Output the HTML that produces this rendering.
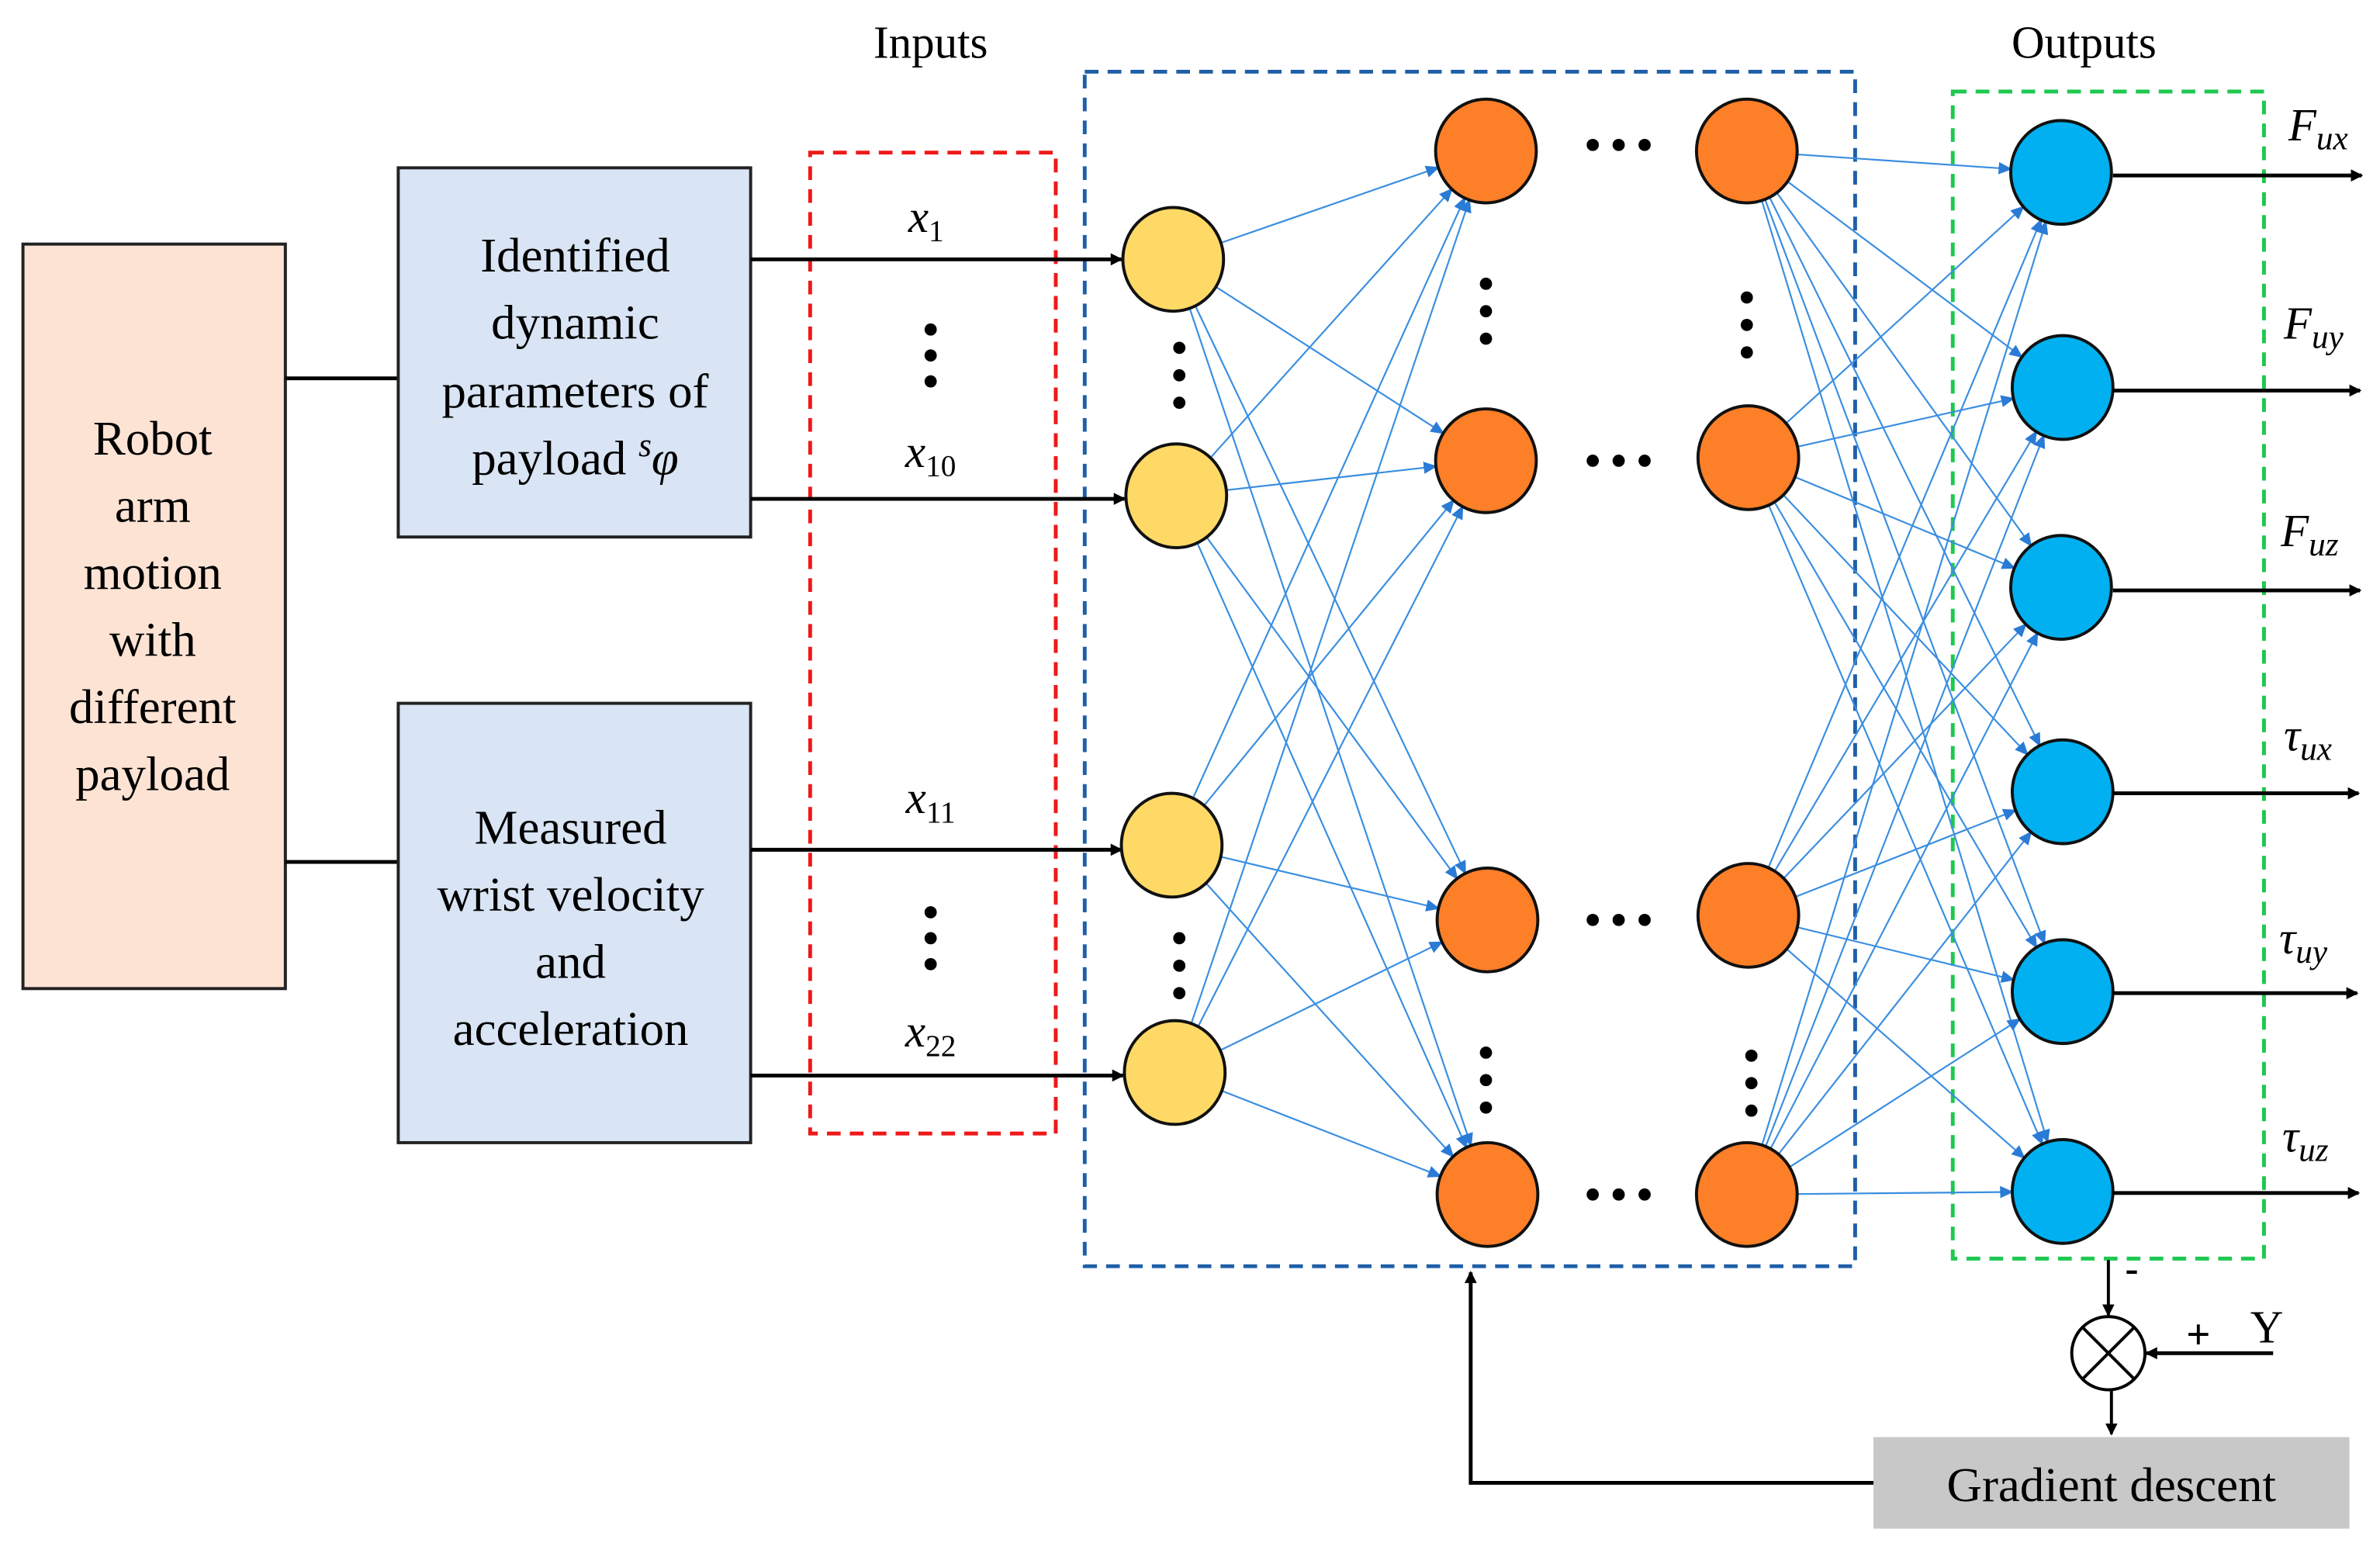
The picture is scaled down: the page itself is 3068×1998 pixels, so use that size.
<!DOCTYPE html>
<html><head><meta charset="utf-8"><style>
html,body{margin:0;padding:0;background:#fff}
svg{display:block}
text{font-family:"Liberation Serif",serif;fill:#000}
.m{font-style:italic}
</style></head><body>
<svg id="s" width="3068" height="1998" viewBox="0 0 1560 1016" xmlns="http://www.w3.org/2000/svg">
<defs>
<marker id="ab" markerWidth="8" markerHeight="8" refX="7" refY="4" orient="auto" markerUnits="userSpaceOnUse"><path d="M0,0 L8,4 L0,8 z" fill="#000"/></marker>
<marker id="al" markerWidth="9" markerHeight="8" refX="8" refY="4" orient="auto" markerUnits="userSpaceOnUse"><path d="M0,0 L9,4 L0,8 z" fill="#2a7bd6"/></marker>
</defs>
<!-- Robot box -->
<rect x="15" y="160" width="172" height="488" fill="#fde3d4" stroke="#222" stroke-width="2"/>
<g font-size="32" text-anchor="middle">
<text x="100" y="298">Robot</text><text x="100" y="342">arm</text><text x="100" y="386">motion</text>
<text x="100" y="430">with</text><text x="100" y="474">different</text><text x="100" y="518">payload</text>
</g>
<line x1="187" y1="248" x2="261" y2="248" stroke="#000" stroke-width="2.5"/>
<line x1="187" y1="565" x2="261" y2="565" stroke="#000" stroke-width="2.5"/>
<rect x="261" y="110" width="231" height="242" fill="#d9e4f4" stroke="#222" stroke-width="2"/>
<rect x="261" y="461" width="231" height="288" fill="#d9e4f4" stroke="#222" stroke-width="2"/>
<g font-size="32" text-anchor="middle">
<text x="377" y="178">Identified</text><text x="377" y="222">dynamic</text><text x="377" y="267">parameters of</text>
<text x="377" y="311">payload <tspan class="m" font-size="22" dy="-12">s</tspan><tspan class="m" dy="12">φ</tspan></text>
<text x="374" y="553">Measured</text><text x="374" y="597">wrist velocity</text><text x="374" y="641">and</text><text x="374" y="685">acceleration</text>
</g>
<text x="610" y="38" font-size="30" text-anchor="middle">Inputs</text>
<text x="1366" y="38" font-size="30" text-anchor="middle">Outputs</text>
<rect x="531" y="100" width="161" height="643" fill="none" stroke="#f01818" stroke-width="2.5" stroke-dasharray="9,6"/>
<rect x="711" y="47" width="505" height="783" fill="none" stroke="#1f5fa8" stroke-width="2.5" stroke-dasharray="9,6"/>
<rect x="1280" y="60" width="204" height="765" fill="none" stroke="#1ec850" stroke-width="2.5" stroke-dasharray="9,6"/>
<g stroke="#000" stroke-width="2.5" marker-end="url(#ab)">
<line x1="492" y1="170" x2="735" y2="170"/><line x1="492" y1="327" x2="737" y2="327"/>
<line x1="492" y1="557" x2="735" y2="557"/><line x1="492" y1="705" x2="736" y2="705"/>
</g>
<g font-size="30" class="m" text-anchor="middle">
<text x="607" y="152" class="m">x<tspan font-size="20" dy="6" font-style="normal">1</tspan></text>
<text x="610" y="306" class="m">x<tspan font-size="20" dy="6" font-style="normal">10</tspan></text>
<text x="610" y="533" class="m">x<tspan font-size="20" dy="6" font-style="normal">11</tspan></text>
<text x="610" y="686" class="m">x<tspan font-size="20" dy="6" font-style="normal">22</tspan></text>
</g>
<g id="lines" stroke="#3a8ee0" stroke-width="1.1" fill="none"></g>
<g id="nodes"></g>
<g id="dots" fill="#000"></g>
<!-- outputs -->
<g stroke="#000" stroke-width="2.5" marker-end="url(#ab)">
<line x1="1385" y1="115" x2="1548" y2="115"/><line x1="1385" y1="256" x2="1547" y2="256"/>
<line x1="1385" y1="387" x2="1547" y2="387"/><line x1="1385" y1="520" x2="1546" y2="520"/>
<line x1="1385" y1="651" x2="1545" y2="651"/><line x1="1385" y1="782" x2="1546" y2="782"/>
</g>
<g font-size="30" font-style="italic">
<text x="1500" y="92">F<tspan font-size="22" dy="6">ux</tspan></text>
<text x="1497" y="222">F<tspan font-size="22" dy="6">uy</tspan></text>
<text x="1495" y="358">F<tspan font-size="22" dy="6">uz</tspan></text>
<text x="1497" y="492">τ<tspan font-size="22" dy="6">ux</tspan></text>
<text x="1494" y="625">τ<tspan font-size="22" dy="6">uy</tspan></text>
<text x="1496" y="755">τ<tspan font-size="22" dy="6">uz</tspan></text>
</g>
<!-- error feedback -->
<line x1="1382" y1="826" x2="1382" y2="862" stroke="#000" stroke-width="2" marker-end="url(#ab)"/>
<text x="1393" y="840" font-size="26" font-weight="bold">-</text>
<circle cx="1382" cy="887" r="24" fill="#fff" stroke="#000" stroke-width="2"/>
<line x1="1365" y1="870" x2="1399" y2="904" stroke="#000" stroke-width="2"/>
<line x1="1399" y1="870" x2="1365" y2="904" stroke="#000" stroke-width="2"/>
<text x="1433" y="884" font-size="28" font-weight="bold">+</text>
<text x="1475" y="880" font-size="30">Y</text>
<line x1="1490" y1="887" x2="1407" y2="887" stroke="#000" stroke-width="2.5" marker-end="url(#ab)"/>
<line x1="1384" y1="911" x2="1384" y2="940" stroke="#000" stroke-width="2" marker-end="url(#ab)"/>
<rect x="1228" y="942" width="312" height="60" fill="#c8c8c8"/>
<text x="1384" y="984" font-size="32" text-anchor="middle">Gradient descent</text>
<polyline points="1228,972 964,972 964,834" fill="none" stroke="#000" stroke-width="2.5" marker-end="url(#ab)"/>
<script>
var NS="http://www.w3.org/2000/svg";
function el(p,t,a){var e=document.createElementNS(NS,t);for(var k in a)e.setAttribute(k,a[k]);p.appendChild(e);return e;}
var Y=[[769,170],[771,325],[768,554],[770,703]];
var O1=[[974,99],[974,302],[975,603],[975,783]];
var O2=[[1145,99],[1146,300],[1146,600],[1145,783]];
var B=[[1351,113],[1352,254],[1351,385],[1352,519],[1352,650],[1352,781]];
var L=document.getElementById("lines"),N=document.getElementById("nodes"),D=document.getElementById("dots");
function conn(a,b,rx,ry){var dx=b[0]-a[0],dy=b[1]-a[1];var t=1/Math.sqrt(dx*dx/(rx*rx)+dy*dy/(ry*ry));
el(L,"line",{x1:a[0]+dx*t,y1:a[1]+dy*t,x2:b[0]-dx*t,y2:b[1]-dy*t,"marker-end":"url(#al)"});}
Y.forEach(function(a){O1.forEach(function(b){conn(a,b,33,34);});});
O2.forEach(function(a){B.forEach(function(b){conn(a,b,33,34);});});
Y.forEach(function(c){el(N,"ellipse",{cx:c[0],cy:c[1],rx:33,ry:34,fill:"#ffd966",stroke:"#111","stroke-width":2});});
O1.concat(O2).forEach(function(c){el(N,"ellipse",{cx:c[0],cy:c[1],rx:33,ry:34,fill:"#fd7f27",stroke:"#111","stroke-width":2});});
B.forEach(function(c){el(N,"ellipse",{cx:c[0],cy:c[1],rx:33,ry:34,fill:"#00b0f0",stroke:"#111","stroke-width":2});});
function vd(x,y0,g){for(var i=0;i<3;i++)el(D,"circle",{cx:x,cy:y0+i*g,r:4});}
function hd(x0,y,g){for(var i=0;i<3;i++)el(D,"circle",{cx:x0+i*g,cy:y,r:4});}
vd(610,216,17);vd(773,228,18);vd(610,598,17);vd(773,615,18);
vd(974,186,18);vd(1145,195,18);vd(974,690,18);vd(1148,692,18);
hd(1044,95,17);hd(1044,302,17);hd(1044,603,17);hd(1044,783,17);
</script>
</svg>
</body></html>
